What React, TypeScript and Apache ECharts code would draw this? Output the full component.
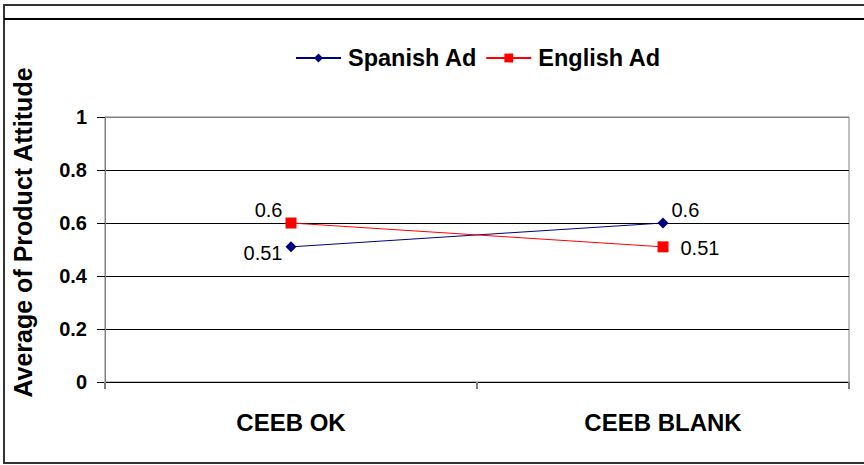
import React, { useEffect, useRef } from "react";
import * as echarts from "echarts";

const categories = ["CEEB OK", "CEEB BLANK"];
const spanishAd = [0.51, 0.6];
const englishAd = [0.6, 0.51];
const yTicks = { min: 0, max: 1, interval: 0.2 };

const FONT = "'Liberation Sans', Arial, sans-serif";

export default function App() {
  const ref = useRef<HTMLDivElement>(null);
  useEffect(() => {
    if (!ref.current) return;
    const chart = echarts.init(ref.current, undefined, { renderer: "svg" });
    const spanishLabels = [
      { position: "left", distance: 3, offset: [0, 6] },
      { position: "right", distance: 3, offset: [0, -13] },
    ];
    const englishLabels = [
      { position: "left", distance: 3, offset: [0, -13] },
      { position: "right", distance: 12, offset: [0, 1] },
    ];
    const labelStyle = { fontFamily: FONT, fontSize: 20, color: "#000" };
    chart.setOption({
      animation: false,
      backgroundColor: "#fff",
      textStyle: { fontFamily: FONT },
      graphic: [
        {
          type: "rect",
          shape: { x: 4, y: 5, width: 900, height: 458 },
          style: { fill: "none", stroke: "#333", lineWidth: 2 },
          silent: true,
        },
        {
          type: "line",
          shape: { x1: 4, y1: 19, x2: 864, y2: 19 },
          style: { stroke: "#000", lineWidth: 2 },
          silent: true,
        },
      ],
      legend: {
        top: 41,
        left: 290,
        itemWidth: 45,
        itemHeight: 11,
        itemGap: 8,
        textStyle: {
          fontFamily: FONT,
          fontSize: 23.5,
          fontWeight: "bold",
          color: "#000",
          padding: [0, 0, 0, 2],
        },
        data: ["Spanish Ad", "English Ad"],
      },
      grid: {
        left: 105,
        right: 15,
        top: 117,
        bottom: 83,
        show: true,
        borderColor: "#808080",
        borderWidth: 1,
      },
      xAxis: {
        type: "category",
        data: categories,
        boundaryGap: true,
        axisLine: { show: true, lineStyle: { color: "#000", width: 1 } },
        axisTick: { show: true, length: 7, lineStyle: { color: "#808080", width: 2 } },
        axisLabel: {
          fontFamily: FONT,
          fontSize: 24,
          fontWeight: "bold",
          color: "#000",
          margin: 28,
        },
      },
      yAxis: {
        type: "value",
        min: yTicks.min,
        max: yTicks.max,
        interval: yTicks.interval,
        name: "Average of Product Attitude",
        nameLocation: "middle",
        nameGap: 70,
        nameTextStyle: {
          fontFamily: FONT,
          fontSize: 25,
          fontWeight: "bold",
          color: "#000",
          padding: [0, 0, 0, 34],
        },
        axisLine: { show: true, lineStyle: { color: "#808080", width: 1 } },
        axisTick: { show: true, length: 8, lineStyle: { color: "#000" } },
        splitLine: {
          show: true,
          lineStyle: {
            color: ["#000", "#000", "#000", "#000", "#000", "#808080"],
            width: 1,
          },
        },
        axisLabel: {
          fontFamily: FONT,
          fontSize: 20,
          fontWeight: "bold",
          color: "#000",
          margin: 18,
          formatter: (v: number) => String(Math.round(v * 10) / 10),
        },
      },
      series: [
        {
          name: "Spanish Ad",
          type: "line",
          symbol: "diamond",
          symbolSize: 11,
          color: "#000080",
          lineStyle: { color: "#000080", width: 1 },
          itemStyle: { color: "#000080" },
          data: spanishAd.map((v, i) => ({
            value: v,
            label: { show: true, ...labelStyle, ...spanishLabels[i] },
          })),
        },
        {
          name: "English Ad",
          type: "line",
          symbol: "rect",
          symbolSize: 11,
          color: "#ff0000",
          lineStyle: { color: "#ff0000", width: 1 },
          itemStyle: { color: "#ff0000" },
          data: englishAd.map((v, i) => ({
            value: v,
            label: { show: true, ...labelStyle, ...englishLabels[i] },
          })),
        },
      ],
    });
    return () => chart.dispose();
  }, []);
  return (
    <div
      ref={ref}
      style={{ position: "absolute", left: 0, top: 0, width: 864, height: 465 }}
    />
  );
}
